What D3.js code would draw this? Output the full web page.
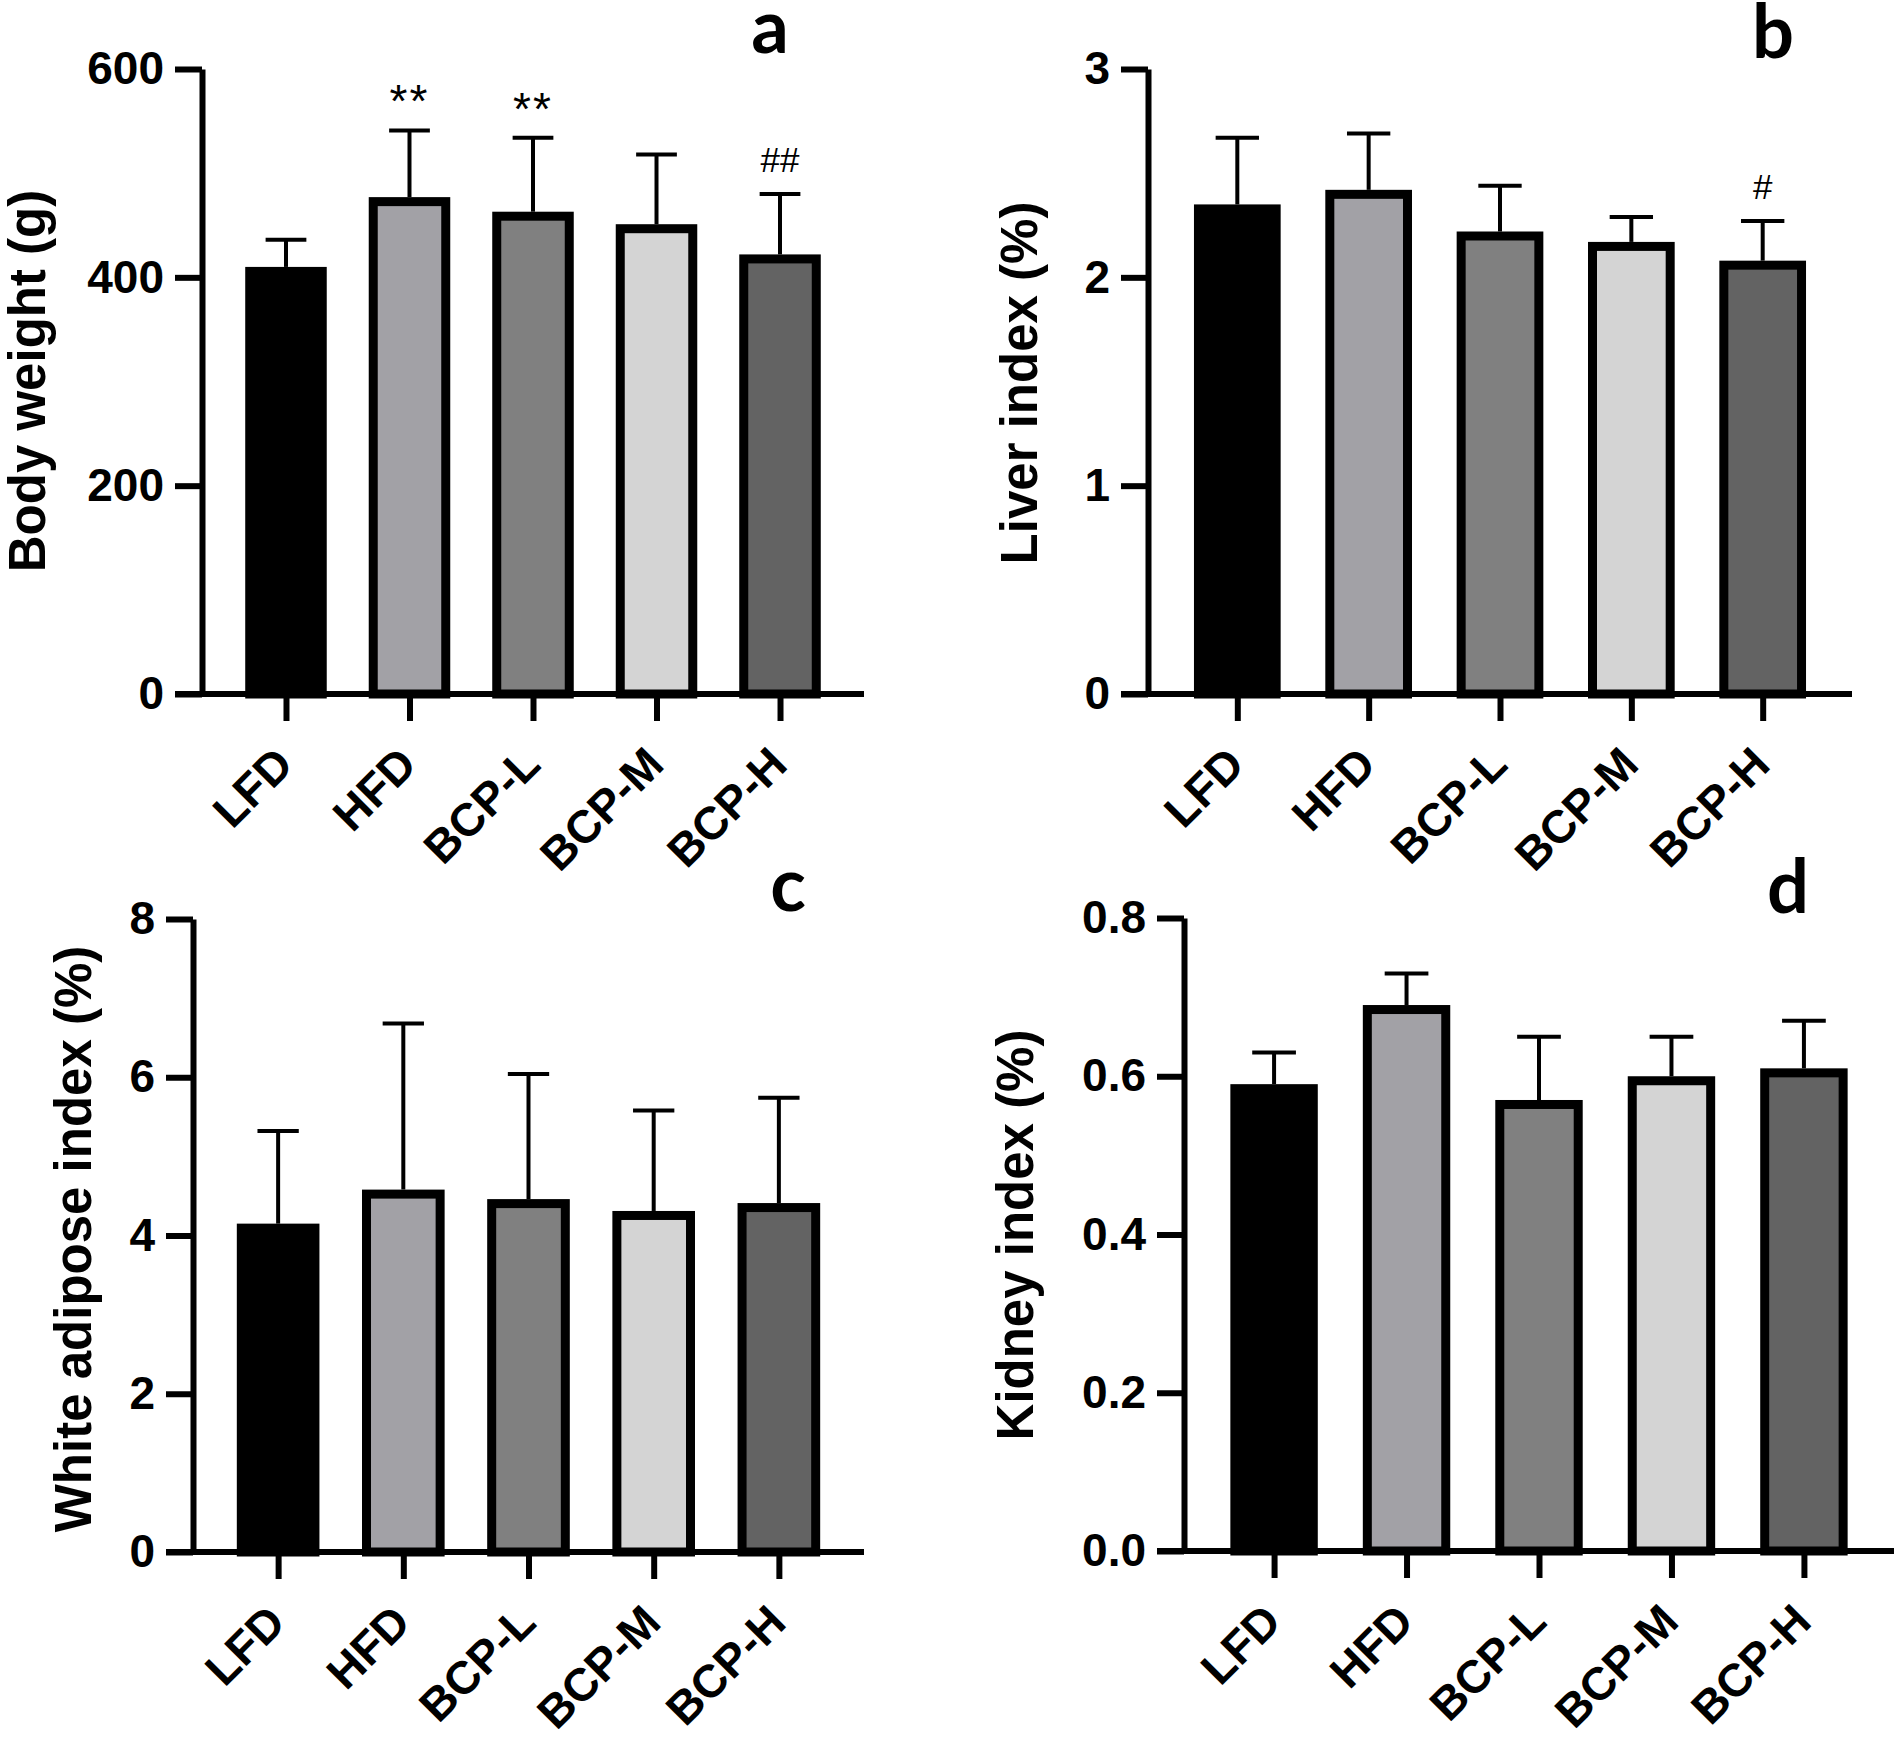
<!DOCTYPE html>
<html><head><meta charset="utf-8">
<script src="https://cdn.jsdelivr.net/npm/d3@7"></script>
<style>body{margin:0;background:#fff}</style>
</head><body>
<svg id="chart" width="1902" height="1739"></svg>
<script>
// ---------- data ----------
const categories = ["LFD", "HFD", "BCP-L", "BCP-M", "BCP-H"];
const barColors = ["#000000", "#a2a1a6", "#808080", "#d4d4d4", "#636363"];

const bodyWeightMean = [410, 477, 463, 451, 422];
const bodyWeightSD   = [26, 64, 71, 67, 58];
const bodyWeightMarks = ["", "**", "**", "", "##"];
const bodyWeightTicks = [0, 200, 400, 600];

const liverMean = [2.35, 2.42, 2.22, 2.17, 2.08];
const liverSD   = [0.32, 0.27, 0.22, 0.12, 0.19];
const liverMarks = ["", "", "", "", "#"];
const liverTicks = [0, 1, 2, 3];

const adiposeMean = [4.15, 4.58, 4.46, 4.31, 4.41];
const adiposeSD   = [1.17, 2.10, 1.58, 1.27, 1.33];
const adiposeMarks = ["", "", "", "", ""];
const adiposeTicks = [0, 2, 4, 6, 8];

const kidneyMean = [0.59, 0.69, 0.57, 0.60, 0.61];
const kidneySD   = [0.04, 0.04, 0.08, 0.05, 0.06];
const kidneyMarks = ["", "", "", "", ""];
const kidneyTicks = [0, 0.2, 0.4, 0.6, 0.8];

// ---------- layout ----------
const FONT = "'Liberation Sans', Arial, Helvetica, sans-serif";
const panels = [
  {letter:"a", title:"Body weight (g)", mean:bodyWeightMean, sd:bodyWeightSD, marks:bodyWeightMarks,
   ticks:bodyWeightTicks, fmt:d3.format("d"),
   ax:202, ex:864, top:69, bot:694, titleX:45, titleY:381, letterX:770, letterY:53},
  {letter:"b", title:"Liver index (%)", mean:liverMean, sd:liverSD, marks:liverMarks,
   ticks:liverTicks, fmt:d3.format("d"),
   ax:1148, ex:1852, top:69, bot:694, titleX:1037, titleY:383, letterX:1773, letterY:58},
  {letter:"c", title:"White adipose index (%)", mean:adiposeMean, sd:adiposeSD, marks:adiposeMarks,
   ticks:adiposeTicks, fmt:d3.format("d"),
   ax:193, ex:864, top:919, bot:1552, titleX:91, titleY:1239, letterX:788, letterY:911},
  {letter:"d", title:"Kidney index (%)", mean:kidneyMean, sd:kidneySD, marks:kidneyMarks,
   ticks:kidneyTicks, fmt:d3.format(".1f"),
   ax:1184, ex:1894, top:918, bot:1551, titleX:1033, titleY:1235, letterX:1788, letterY:913}
];

const svg = d3.select("#chart");
svg.append("rect").attr("width",1902).attr("height",1739).attr("fill","#fff");

const AXW = 6, BARSW = 9, EBW = 4, TICK = 27;

panels.forEach(p => {
  const g = svg.append("g");
  const ymax = p.ticks[p.ticks.length-1];
  const y = d3.scaleLinear().domain([0, ymax]).range([p.bot, p.top]);
  const x = d3.scalePoint().domain(categories).range([p.ax, p.ex]).padding(0.68);
  const bw = x.step() * 0.66;

  const data = categories.map((c,i) => ({c, v:p.mean[i], sd:p.sd[i], mark:p.marks[i], fill:barColors[i]}));

  // error bars (behind bars)
  const eb = g.append("g");
  eb.selectAll("line.v").data(data).join("line")
    .attr("x1", d => x(d.c)).attr("x2", d => x(d.c))
    .attr("y1", d => y(d.v)).attr("y2", d => y(d.v + d.sd))
    .attr("stroke","#000").attr("stroke-width",EBW);
  eb.selectAll("line.cap").data(data).join("line")
    .attr("x1", d => x(d.c) - bw/4).attr("x2", d => x(d.c) + bw/4)
    .attr("y1", d => y(d.v + d.sd)).attr("y2", d => y(d.v + d.sd))
    .attr("stroke","#000").attr("stroke-width",EBW);

  // bars
  g.append("g").selectAll("rect").data(data).join("rect")
    .attr("x", d => x(d.c) - bw/2 + BARSW/2)
    .attr("width", bw - BARSW)
    .attr("y", d => y(d.v) + BARSW/2)
    .attr("height", d => y(0) - y(d.v) - BARSW/2)
    .attr("fill", d => d.fill)
    .attr("stroke", "#000").attr("stroke-width", BARSW);

  // significance marks
  g.append("g").selectAll("text").data(data.filter(d => d.mark)).join("text")
    .attr("x", d => x(d.c))
    .attr("y", d => y(d.v + d.sd) - (d.mark.includes("*") ? 13 : 22))
    .attr("text-anchor","middle")
    .attr("font-family", FONT)
    .attr("font-size", d => d.mark.includes("*") ? 46 : 35)
    .attr("letter-spacing", d => d.mark.includes("*") ? 2 : 0)
    .text(d => d.mark);

  // y axis
  const yAxis = d3.axisLeft(y).tickValues(p.ticks).tickFormat(p.fmt)
    .tickSize(TICK).tickSizeOuter(0).tickPadding(11);
  const yg = g.append("g").attr("transform", `translate(${p.ax},0)`).call(yAxis);
  yg.select(".domain").attr("stroke","#000").attr("stroke-width",AXW);
  yg.selectAll(".tick line").attr("stroke","#000").attr("stroke-width",AXW);
  yg.selectAll(".tick text").attr("fill","#000")
    .attr("font-family",FONT).attr("font-weight","bold").attr("font-size",46);

  // x axis
  const xAxis = d3.axisBottom(x).tickSize(TICK).tickSizeOuter(0);
  const xg = g.append("g").attr("transform", `translate(0,${p.bot})`).call(xAxis);
  xg.select(".domain").remove();
  xg.append("line").attr("x1", p.ax - TICK).attr("x2", p.ex).attr("y1",0).attr("y2",0)
    .attr("stroke","#000").attr("stroke-width",AXW);
  xg.selectAll(".tick line").attr("stroke","#000").attr("stroke-width",AXW);
  xg.selectAll(".tick text").attr("fill","#000")
    .attr("x",null).attr("y",null).attr("dy",null)
    .attr("transform","translate(9,73) rotate(-45)")
    .style("text-anchor","end")
    .attr("font-family",FONT).attr("font-weight","bold").attr("font-size",46);

  // y title
  g.append("text")
    .attr("transform", `translate(${p.titleX},${p.titleY}) rotate(-90)`)
    .attr("text-anchor","middle")
    .attr("font-family",FONT).attr("font-weight","bold").attr("font-size",51)
    .text(p.title);

  // panel letter
  g.append("text")
    .attr("x", p.letterX).attr("y", p.letterY)
    .attr("text-anchor","middle")
    .attr("font-family","Lato, 'Open Sans', sans-serif").attr("font-weight","bold").attr("font-size",74)
    .text(p.letter);
});
</script>
</body></html>
